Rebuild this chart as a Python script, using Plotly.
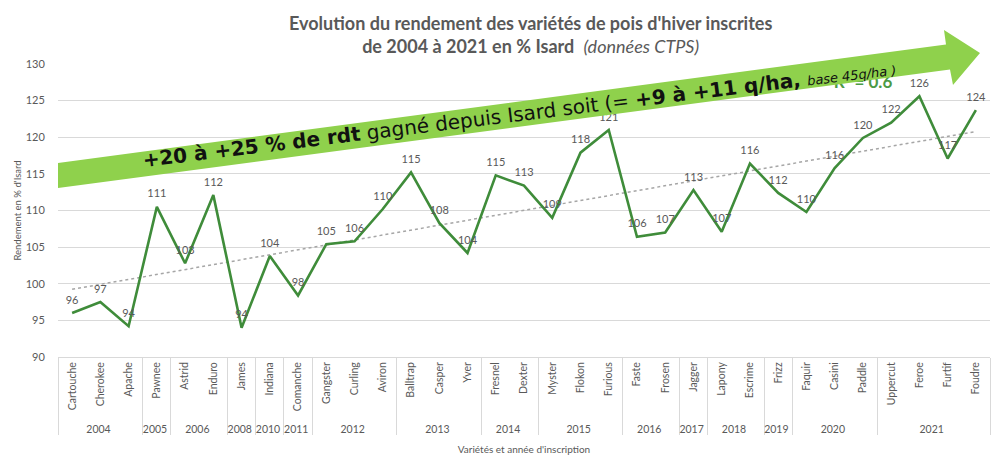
import numpy as np
import plotly.graph_objects as go

# ---- data ----
years = ["2004", "2004", "2004", "2005", "2006", "2006", "2008", "2010", "2011",
         "2012", "2012", "2012", "2013", "2013", "2013", "2014", "2014",
         "2015", "2015", "2015", "2016", "2016", "2017", "2018", "2018", "2019",
         "2020", "2020", "2020", "2021", "2021", "2021", "2021"]
varieties = ["Cartouche", "Cherokee", "Apache", "Pawnee", "Astrid", "Enduro", "James",
             "Indiana", "Comanche", "Gangster", "Curling", "Aviron", "Balltrap", "Casper",
             "Yver", "Fresnel", "Dexter", "Myster", "Flokon", "Furious", "Faste", "Frosen",
             "Jagger", "Lapony", "Escrime", "Frizz", "Faquir", "Casini", "Paddle",
             "Uppercut", "Feroe", "Furtif", "Foudre"]
rendement = [96.0, 97.5, 94.2, 110.5, 102.8, 112.1, 94.0, 103.8, 98.4, 105.4, 105.8,
             110.2, 115.2, 108.3, 104.2, 114.8, 113.4, 109.0, 117.9, 121.0, 106.4,
             107.0, 112.8, 107.1, 116.4, 112.4, 109.8, 115.8, 119.9, 122.0, 125.6,
             117.1, 123.7]
labels = ["96", "97", "94", "111", "103", "112", "94", "104", "98", "105", "106", "110",
          "115", "108", "104", "115", "113", "109", "118", "121", "106", "107", "113",
          "107", "116", "112", "110", "116", "120", "122", "126", "117", "124"]
y_ticks = [90, 95, 100, 105, 110, 115, 120, 125, 130]

# linear trend
idx = np.arange(len(rendement))
a, b = np.polyfit(idx, rendement, 1)
trend = list(a * idx + b)

GREY = "#595959"
FONT = "Lato"

# plot area in pixels
W, H = 993, 455
L, R, T, B = 58, 3, 64, 98
PW, PH = W - L - R, H - T - B


def px(x):
    return (x - L) / PW


def py(y):
    return (H - B - y) / PH


fig = go.Figure()
xcat = [years, varieties]

fig.add_trace(go.Scatter(
    x=xcat, y=trend, mode="lines",
    line=dict(color="#a6a6a6", width=1.5, dash="dot"),
    hoverinfo="skip", showlegend=False))

fig.add_trace(go.Scatter(
    x=xcat, y=rendement, mode="lines+markers+text", text=labels,
    textposition="top center",
    textfont=dict(family=FONT, size=11, color=GREY),
    marker=dict(size=9, color="rgba(0,0,0,0)"),
    line=dict(color="#3f8c3a", width=2.6),
    cliponaxis=False, showlegend=False))

# R² label (partly hidden under the arrow)
fig.add_shape(type="rect", xref="paper", yref="paper",
              x0=px(830), x1=px(896), y0=py(92), y1=py(70),
              line=dict(width=0), fillcolor="rgba(0,0,0,0)", layer="above",
              label=dict(text="<b>R² = 0.6</b>", textposition="middle center",
                         font=dict(family=FONT, size=17, color="#4c9a46")))

# big arrow
pts = [(58, 163), (946, 44.5), (944, 30), (980, 53), (953, 85), (950, 69.5), (58, 188)]
path = "M " + " L ".join(f"{px(x):.5f},{py(y):.5f}" for x, y in pts) + " Z"
fig.add_shape(type="path", path=path, xref="paper", yref="paper",
              fillcolor="#8fd14c", line=dict(width=0), layer="above")

arrow_text = ("<b>+20 à +25 % de rdt</b> gagné depuis Isard soit (= "
              "<b>+9 à +11 q/ha,</b> <i><span style='font-size:13px'>base 45q/ha )</span></i>")
fig.add_annotation(xref="paper", yref="paper", x=px(519), y=py(114),
                   text=arrow_text, showarrow=False, textangle=-7,
                   font=dict(family="DejaVu Sans", size=20, color="#111111"),
                   xanchor="center", yanchor="middle")

fig.add_annotation(xref="paper", yref="paper", x=px(530), y=py(34),
                   text=("<b>Evolution du rendement des variétés de pois d'hiver inscrites</b><br>"
                         "<b>de 2004 à 2021 en % Isard</b>  <i>(données CTPS)</i>"),
                   showarrow=False, align="center",
                   font=dict(family=FONT, size=18, color=GREY),
                   xanchor="center", yanchor="middle")

fig.update_layout(
    width=W, height=H,
    margin=dict(l=L, r=R, t=T, b=B, autoexpand=False),
    paper_bgcolor="white", plot_bgcolor="white",
    font=dict(family=FONT, color=GREY),
    hovermode=False,
    xaxis=dict(type="multicategory", tickangle=-90, automargin=False,
               range=[-0.5, len(varieties) - 0.5],
               tickfont=dict(family=FONT, size=10.5, color=GREY),
               showgrid=False, showline=True, linecolor="#d9d9d9", linewidth=1,
               showdividers=True, dividercolor="#d9d9d9", dividerwidth=1,
               ticks="", title=dict(text="Variétés et année d'inscription",
                                    font=dict(family=FONT, size=10, color=GREY),
                                    standoff=12)),
    yaxis=dict(range=[90, 130], tickvals=y_ticks, showgrid=True, automargin=False,
               gridcolor="#d9d9d9", gridwidth=1, zeroline=False,
               ticks="outside", ticklen=10, tickcolor="rgba(0,0,0,0)",
               tickfont=dict(family=FONT, size=11, color=GREY),
               title=dict(text="Rendement en % d'Isard",
                          font=dict(family=FONT, size=9.5, color=GREY), standoff=2)),
)

fig.write_html("out.html", config={"displayModeBar": False},
               post_script="document.body.style.margin='0px';document.body.style.overflow='hidden';")
